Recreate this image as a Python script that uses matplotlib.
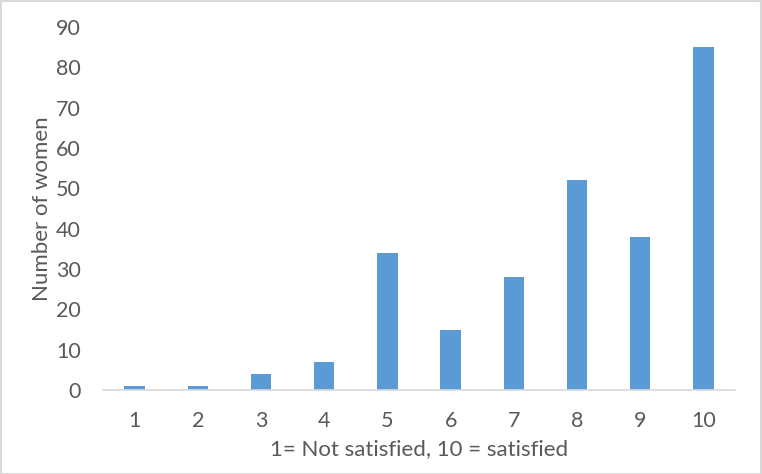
import matplotlib.pyplot as plt
from matplotlib.patches import Rectangle

# satisfaction score (1 = not satisfied, 10 = satisfied)
scores = [1, 2, 3, 4, 5, 6, 7, 8, 9, 10]
women = [1, 1, 4, 7, 34, 15, 28, 52, 38, 85]
yticks = [0, 10, 20, 30, 40, 50, 60, 70, 80, 90]

plt.rcParams['font.family'] = ['Lato', 'DejaVu Sans']
text_color = '#595959'

fig = plt.figure(figsize=(7.62, 4.74), dpi=100)
ax = fig.add_axes([103 / 762, 1 - 390 / 474, 632 / 762, 363 / 474])

ax.bar(scores, women, width=0.32, color='#5B9BD5', edgecolor='none')

ax.set_xlim(0.5, 10.5)
ax.set_ylim(0, 90)
ax.set_xticks(scores)
ax.set_yticks(yticks)
ax.tick_params(length=0, labelsize=15.5, colors=text_color)
ax.tick_params(axis='y', pad=16)
ax.tick_params(axis='x', pad=15)

for side in ['top', 'right', 'left']:
    ax.spines[side].set_visible(False)
ax.spines['bottom'].set_color('#D9D9D9')
ax.spines['bottom'].set_linewidth(1.2)

ax.set_xlabel('1= Not satisfied, 10 = satisfied', fontsize=16, color=text_color, labelpad=6)
ax.set_ylabel('Number of women', fontsize=16, color=text_color, labelpad=3)

# light border round the whole chart
fig.patches.append(Rectangle((0.001, 0.001), 0.998, 0.997, transform=fig.transFigure,
                             fill=False, edgecolor='#D9D9D9', linewidth=1.5))

fig.savefig('out.png', dpi=100)
